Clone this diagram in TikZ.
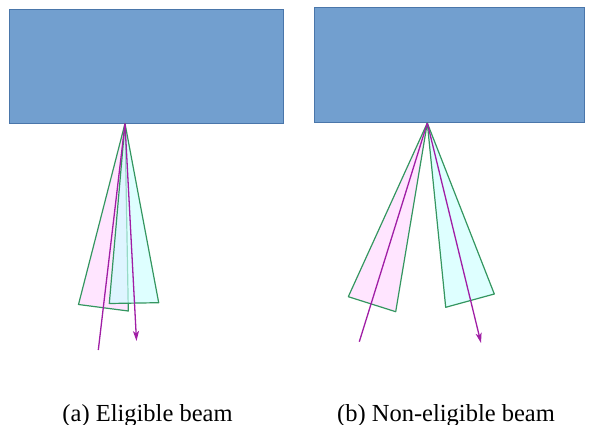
\documentclass[tikz,border=0pt]{standalone}
\usepackage{fontspec}
\setmainfont{Liberation Serif}
\usetikzlibrary{arrows.meta}
\definecolor{boxfill}{RGB}{114,159,207}
\definecolor{boxedge}{RGB}{74,118,170}
\definecolor{beamedge}{RGB}{52,150,96}
\definecolor{pinkfill}{RGB}{255,215,255}
\definecolor{cyanfill}{RGB}{205,255,255}
\definecolor{raycol}{RGB}{160,30,165}
\tikzset{
  panel/.style={fill=boxfill,draw=boxedge,line width=0.9pt},
  lobe/.style={draw=beamedge,line width=1.2pt,line join=round,fill opacity=0.65},
  ray/.style={draw=raycol,line width=1.3pt},
  rayhead/.style={ray,-{Stealth[length=10pt,width=6pt,inset=2.5pt]}},
  caption/.style={font=\fontsize{24.5}{28}\selectfont,anchor=base,inner sep=0pt}
}
\begin{document}
\begin{tikzpicture}[x=1pt,y=-1pt]
\useasboundingbox (0,0) rectangle (589,425);
% panels
\draw[panel] (9.5,9.5) rectangle (283.5,123) coordinate (pa);
\draw[panel] (314,7.5) rectangle (584,122) coordinate (pb);
% apexes
\coordinate (A) at (125,123.5);
\coordinate (B) at (427.3,123);
% left figure beams
\filldraw[lobe,fill=pinkfill] (A) -- (78.5,304.5) -- (128.3,311) -- cycle;
\filldraw[lobe,fill=cyanfill] (A) -- (109.3,303.5) -- (158.7,302.7) -- cycle;
\coordinate (a1) at (98.3,350);
\coordinate (a2) at (136.5,341);
\draw[ray] (A) -- (a1);
\draw[rayhead] (A) -- (a2);
% right figure beams
\filldraw[lobe,fill=pinkfill] (B) -- (348.3,296.7) -- (395.7,311.7) -- cycle;
\filldraw[lobe,fill=cyanfill] (B) -- (445.7,307.3) -- (494.3,294) -- cycle;
\coordinate (b1) at (359.3,341.7);
\coordinate (b2) at (481,343);
\draw[ray] (B) -- (b1);
\draw[rayhead] (B) -- (b2);
% captions
\node[caption] (capa) at (147.5,421) {(a) Eligible beam};
\node[caption] (capb) at (446,421) {(b) Non-eligible beam};
\end{tikzpicture}
\end{document}
